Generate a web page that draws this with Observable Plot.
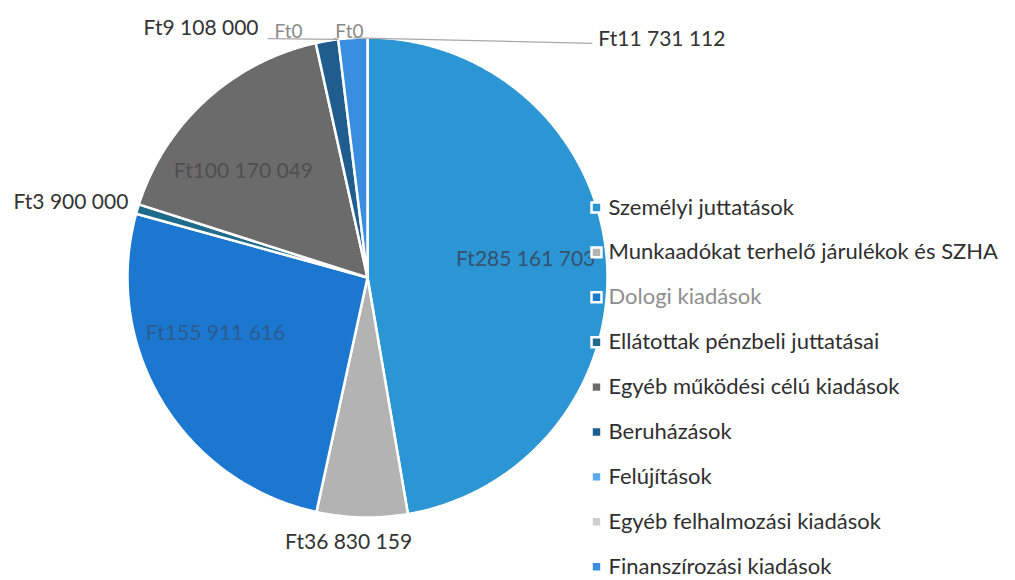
<!DOCTYPE html>
<html><head><meta charset="utf-8">
<script src="https://cdn.jsdelivr.net/npm/d3@7"></script>
<script src="https://cdn.jsdelivr.net/npm/@observablehq/plot@0.6"></script>
<style>body{margin:0;background:#fff;} #chart{width:1015px;height:580px;}</style>
</head><body><div id="chart"></div>
<script>
// ---- data ----
const categories = [
  "Személyi juttatások",
  "Munkaadókat terhelő járulékok és SZHA",
  "Dologi kiadások",
  "Ellátottak pénzbeli juttatásai",
  "Egyéb működési célú kiadások",
  "Beruházások",
  "Felújítások",
  "Egyéb felhalmozási kiadások",
  "Finanszírozási kiadások"
];
const values = [285161703, 36830159, 155911616, 3900000, 100170049, 9108000, 0, 0, 11731112];
const colors = ["#2c95d3", "#b3b3b3", "#1b77cf", "#1e6b8c", "#6b6b6b", "#1f5d8e", "#5aa9ee", "#cdcdcd", "#3a8ee0"];

// ---- layout ----
const W = 1015, H = 580, cx = 367, cy = 277, R = 240;
const labelPlace = [
  {shift: -1.6,  rf: 0.663, anchor: "middle", fill: "#35516e", size: 21},
  {shift: 2.8,   rf: 1.104, anchor: "middle", fill: "#333333", size: 21},
  {shift: 10.9,  rf: 0.675, anchor: "middle", fill: "#2c5b8e", size: 21},
  {shift: 1.0,   rf: 1.045, anchor: "end",    fill: "#333333", size: 21},
  {shift: -7.15, rf: 0.68,  anchor: "middle", fill: "#4f4f4f", size: 21},
  {shift: -13.9, rf: 1.133, anchor: "end",    fill: "#333333", size: 21},
  {shift: -10.8, rf: 1.076, anchor: "middle", fill: "#8a8a8a", size: 19},
  {shift: 2.8,   rf: 1.028, anchor: "middle", fill: "#8a8a8a", size: 19},
  {shift: 47.6,  rf: 1.382, anchor: "start",  fill: "#333333", size: 21}
];

const fmt = v => "Ft" + d3.format(",")(v).replace(/,/g, " ");
const total = d3.sum(values);
let acc = 0;
const slices = categories.map((c, i) => {
  const a0 = acc / total * 360; acc += values[i];
  const a1 = acc / total * 360;
  return {cat: c, value: values[i], a0, a1, mid: (a0 + a1) / 2, i};
});
const pt = (a, r) => [cx + r * Math.sin(a * Math.PI / 180), cy - r * Math.cos(a * Math.PI / 180)];

const piePts = [];
for (const s of slices) {
  if (s.value <= 0) continue;
  const n = Math.max(2, Math.ceil((s.a1 - s.a0) / 0.5));
  piePts.push({cat: s.cat, x: cx, y: cy});
  for (let k = 0; k <= n; k++) {
    const [x, y] = pt(s.a0 + (s.a1 - s.a0) * k / n, R);
    piePts.push({cat: s.cat, x, y});
  }
  piePts.push({cat: s.cat, x: cx, y: cy});
}

const labels = slices.map((s, i) => {
  const p = labelPlace[i];
  const [x, y] = pt(s.mid + p.shift, R * p.rf);
  return {x, y, text: fmt(s.value), ...p, i};
});

const leaders = [];
[6, 7, 8].forEach(i => {
  const [x1, y1] = pt(slices[i].mid, R);
  const l = labels[i];
  let x2, y2;
  if (i === 8) { x2 = l.x - 6; y2 = l.y + 4; }
  else { x2 = l.x - (i === 6 ? 21 : 16); y2 = l.y + 7; }
  leaders.push({x1, y1, x2, y2});
});

const legendRows = categories.map((c, i) => ({cat: c, x: 596, y: 207 + i * 44.9, i}));

const marks = [
  Plot.line(piePts, {x: "x", y: "y", z: "cat", fill: "cat", stroke: "white", strokeWidth: 2.5, strokeLinejoin: "round"}),
  Plot.link(leaders, {x1: "x1", y1: "y1", x2: "x2", y2: "y2", stroke: "#a8a8a8", strokeWidth: 1.2}),
  ...labels.map(l => Plot.text([l], {x: "x", y: "y", text: "text", textAnchor: l.anchor, fill: l.fill, fontSize: l.size})),
  Plot.dot(legendRows, {x: "x", y: "y", fill: "cat", symbol: "square", r: 5.6, stroke: "white", strokeWidth: 2.5}),
  Plot.text(legendRows.filter(d => d.i !== 2), {x: d => d.x + 12, y: "y", text: "cat", textAnchor: "start", fill: "#2f2f2f", fontSize: 22}),
  Plot.text(legendRows.filter(d => d.i === 2), {x: d => d.x + 12, y: "y", text: "cat", textAnchor: "start", fill: "#8e8e8e", fontSize: 22})
];

const chart = Plot.plot({
  width: W, height: H,
  margin: 0,
  x: {domain: [0, W], range: [0, W], axis: null},
  y: {domain: [0, H], range: [0, H], axis: null},
  color: {domain: categories, range: colors},
  style: {fontFamily: "Lato, 'Open Sans', sans-serif", background: "white", overflow: "visible"},
  marks
});
document.getElementById("chart").appendChild(chart);
</script>
</body></html>
